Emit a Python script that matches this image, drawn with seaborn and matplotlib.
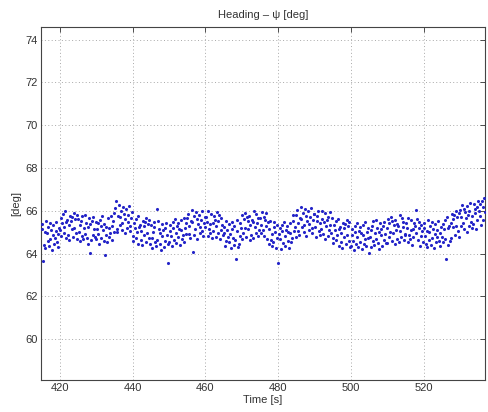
import numpy as np
import pandas as pd
import matplotlib
matplotlib.use("Agg")
import matplotlib.pyplot as plt
import seaborn as sns

# Heading samples, 5 Hz, grouped in 5-second blocks starting at t = 415 s
h415 = [65.16, 65.37, 63.65, 64.42, 64.24, 65.02, 65.53, 64.97, 64.58, 65.26, 64.36, 64.67, 65.44,
        65.11, 64.19, 64.88, 65.32, 64.47, 64.74, 65.07, 65.48, 64.56, 64.30, 64.93, 65.21]
h420 = [65.09, 64.83, 65.68, 65.43, 65.87, 64.98, 65.24, 65.99, 64.72, 65.49, 65.58, 64.89, 65.32,
        64.63, 65.76, 65.53, 65.14, 65.72, 64.78, 65.91, 65.21, 65.63, 64.96, 65.81, 64.68]
h425 = [65.63, 65.03, 64.58, 65.33, 65.54, 65.77, 64.84, 64.66, 65.22, 64.93, 65.81, 65.44, 64.73,
        65.26, 64.47, 65.68, 64.02, 65.39, 64.62, 65.52, 64.88, 65.73, 65.16, 64.76, 65.47]
h430 = [64.66, 65.16, 65.45, 64.91, 64.47, 65.59, 65.31, 64.74, 65.74, 65.08, 64.59, 65.37, 63.92,
        64.86, 65.24, 64.52, 65.66, 65.19, 64.77, 64.96, 65.77, 64.64, 65.29, 65.51, 65.03]
h435 = [65.91, 66.12, 66.48, 65.17, 64.99, 65.77, 66.28, 65.72, 65.33, 66.01, 65.11, 65.42, 66.19,
        65.86, 64.94, 65.63, 66.07, 65.22, 65.49, 65.82, 66.23, 65.31, 65.05, 65.68, 65.96]
h440 = [64.84, 64.58, 65.43, 65.18, 65.62, 64.73, 64.99, 65.74, 64.47, 65.24, 65.33, 64.64, 65.07,
        64.38, 65.51, 65.28, 64.89, 65.47, 64.53, 65.66, 64.96, 65.38, 64.71, 65.56, 64.43]
h445 = [65.33, 64.73, 64.28, 65.03, 65.24, 65.47, 64.54, 64.36, 66.08, 64.63, 65.51, 65.14, 64.43,
        64.96, 64.17, 65.38, 64.81, 65.09, 64.32, 65.22, 64.58, 65.43, 64.86, 64.46, 63.55]
h450 = [64.56, 65.06, 65.35, 64.81, 64.37, 65.49, 65.21, 64.64, 65.64, 64.98, 64.49, 65.27, 65.44,
        64.76, 65.14, 64.42, 65.56, 65.09, 64.67, 64.86, 65.67, 64.54, 65.19, 65.41, 64.93]
h455 = [65.66, 65.87, 65.27, 64.92, 64.74, 65.52, 66.03, 65.47, 64.08, 65.76, 64.86, 65.17, 65.94,
        65.61, 64.69, 65.38, 65.82, 64.97, 65.24, 65.57, 65.98, 65.06, 64.80, 65.43, 65.71]
h460 = [65.23, 65.71, 65.49, 64.84, 65.97, 65.16, 64.97, 65.39, 65.86, 64.72, 65.44, 65.06, 65.74,
        65.57, 64.79, 65.28, 65.94, 64.94, 65.51, 65.79, 64.67, 65.11, 65.65, 65.36, 64.86]
h465 = [65.26, 64.98, 64.35, 64.61, 65.53, 65.12, 64.79, 64.52, 65.37, 64.93, 64.24, 65.16, 65.49,
        64.72, 64.41, 65.31, 64.63, 63.73, 65.58, 65.07, 64.29, 64.47, 64.82, 65.42, 65.21]
h470 = [64.68, 65.81, 64.96, 65.63, 65.21, 65.91, 64.78, 65.72, 65.14, 65.53, 65.76, 64.63, 65.32,
        64.89, 65.58, 65.49, 64.72, 65.99, 65.24, 64.98, 65.87, 65.43, 65.68, 64.83, 65.09]
h475 = [65.67, 64.96, 65.36, 65.93, 65.08, 65.72, 64.82, 65.59, 65.31, 65.88, 64.67, 65.46, 64.43,
        65.14, 65.51, 64.63, 64.92, 64.36, 64.54, 65.47, 65.24, 65.03, 64.28, 64.73, 65.33]
h480 = [63.55, 64.91, 65.20, 64.66, 64.22, 65.34, 65.06, 64.49, 65.49, 64.83, 64.34, 65.12, 65.29,
        64.61, 64.99, 64.27, 65.41, 64.94, 64.52, 64.71, 65.52, 65.80, 65.04, 65.26, 64.78]
h485 = [65.81, 66.02, 65.42, 65.07, 64.89, 65.67, 66.18, 65.62, 65.23, 65.91, 65.01, 65.32, 66.09,
        65.76, 64.84, 65.53, 65.97, 65.12, 65.39, 65.72, 66.13, 65.21, 64.95, 65.58, 65.86]
h490 = [65.83, 65.23, 64.78, 65.53, 65.74, 65.97, 65.04, 64.86, 65.42, 65.13, 66.01, 65.64, 64.93,
        65.46, 64.67, 65.88, 65.31, 65.59, 64.82, 65.72, 65.08, 65.93, 65.36, 64.96, 65.67]
h495 = [64.74, 64.48, 65.33, 65.08, 65.52, 64.63, 64.89, 65.64, 64.37, 65.14, 65.23, 64.54, 64.97,
        64.28, 65.41, 65.18, 64.79, 65.37, 64.43, 65.56, 64.86, 65.28, 64.61, 65.46, 64.33]
h500 = [64.36, 64.86, 65.15, 64.61, 64.17, 65.29, 65.01, 64.44, 65.44, 64.78, 64.29, 65.07, 65.24,
        64.56, 64.94, 64.22, 65.36, 64.89, 64.47, 64.66, 65.47, 64.34, 64.99, 65.21, 64.73]
h505 = [64.05, 64.78, 64.33, 65.08, 65.29, 65.52, 64.59, 64.41, 64.97, 64.68, 65.56, 65.19, 64.48,
        65.01, 64.22, 65.43, 64.86, 65.14, 64.37, 65.27, 64.63, 65.48, 64.91, 64.51, 65.22]
h510 = [64.48, 65.61, 64.76, 65.43, 65.01, 65.71, 64.58, 65.52, 64.94, 65.33, 65.56, 64.43, 65.12,
        64.69, 65.38, 65.29, 64.52, 65.79, 65.04, 64.78, 65.67, 65.23, 65.48, 64.63, 64.89]
h515 = [64.93, 65.41, 65.19, 64.54, 65.67, 64.86, 64.67, 65.09, 65.56, 64.42, 65.14, 64.76, 65.44,
        65.27, 66.02, 64.98, 65.64, 64.64, 65.21, 65.49, 64.37, 64.81, 65.35, 65.06, 64.56]
h520 = [65.21, 65.42, 64.82, 64.47, 64.29, 65.07, 65.58, 65.02, 64.63, 65.31, 64.41, 64.72, 65.49,
        65.16, 64.24, 64.93, 65.37, 64.52, 64.79, 65.12, 65.53, 64.61, 64.35, 64.98, 65.26]
h525 = [64.79, 64.53, 65.38, 65.13, 65.57, 64.68, 63.73, 65.69, 64.42, 65.19, 65.28, 64.59, 65.42,
        64.73, 65.86, 65.63, 65.24, 65.82, 64.88, 66.01, 65.31, 65.73, 65.06, 65.91, 64.78]
h530 = [66.02, 65.31, 65.71, 66.28, 65.43, 66.07, 65.17, 65.94, 65.66, 66.23, 65.02, 65.81, 65.28,
        65.99, 66.36, 65.48, 65.77, 65.21, 65.39, 66.32, 66.09, 65.88, 65.13, 65.58, 66.18]
h535 = [66.48, 66.01, 66.30, 65.76, 65.32, 66.44, 66.16, 65.59, 66.59, 65.93]

t_start = 415.0       # s
sample_period = 0.2   # s

x_ticks = [420, 440, 460, 480, 500, 520]
y_ticks = [60, 62, 64, 66, 68, 70, 72, 74]

heading = np.concatenate([h415, h420, h425, h430, h435, h440, h445, h450, h455, h460,
                          h465, h470, h475, h480, h485, h490, h495, h500, h505, h510,
                          h515, h520, h525, h530, h535])
time = t_start + sample_period * np.arange(len(heading))
df = pd.DataFrame({"time": time, "heading": heading})

sns.set_style("white")
plt.rcParams["font.family"] = ["Liberation Sans", "DejaVu Sans"]

fig = plt.figure(figsize=(4.88, 4.12), dpi=100)
ax = fig.add_axes([0.084, 0.078, 0.910, 0.857])

sns.scatterplot(data=df, x="time", y="heading", ax=ax, color="#2424c8",
                s=5, linewidth=0, edgecolor=None, legend=False, zorder=3)

ax.set_xlim(414.8, 536.9)
ax.set_ylim(58.1, 74.6)
ax.set_xticks(x_ticks)
ax.set_yticks(y_ticks)
ax.tick_params(direction="in", length=3.5, width=0.6, top=True, right=True,
               labelsize=8, labelcolor="#333333", color="#333333", pad=2.5)
ax.grid(True, linestyle=(0, (1, 2.5)), linewidth=0.7, color="#a8a8a8")
for side in ax.spines.values():
    side.set_color("#444444")
    side.set_linewidth(0.8)

ax.set_title("Heading – ψ [deg]", fontsize=8, color="#333333", pad=6)
ax.set_xlabel("Time [s]", fontsize=8, color="#333333", labelpad=1)
ax.set_ylabel("[deg]", fontsize=8, color="#333333", labelpad=3)

fig.savefig("out.png", dpi=100)
